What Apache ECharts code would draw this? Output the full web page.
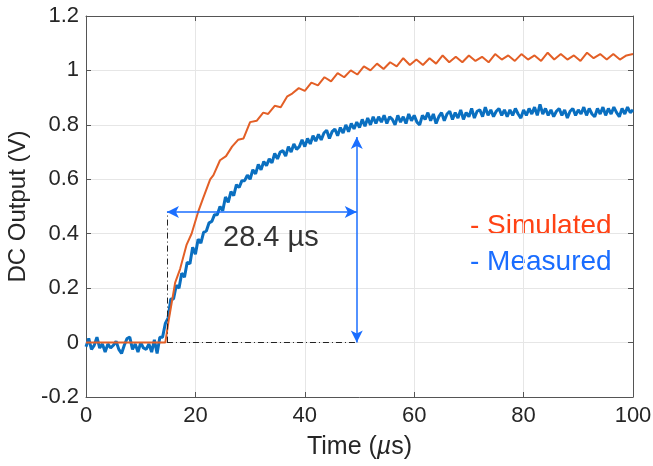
<!DOCTYPE html>
<html><head><meta charset="utf-8">
<script src="https://cdn.jsdelivr.net/npm/echarts@6/dist/echarts.min.js"></script>
<style>html,body{margin:0;padding:0;background:#fff}#c{width:653px;height:466px}</style>
</head><body><div id="c"></div>
<script>
// ---- data ----
const xRange = [0, 100];
const xInterval = 20;
const yRange = [-0.2, 1.2];
const yInterval = 0.2;

const simTime = [0, 14.5, 15.1, 16.3, 17.2, 18.4, 19.3, 20.5, 21.4, 22.7, 23.3, 24.5, 25.6, 26.7, 27.8, 28.8,
  30.0, 31.2, 32.4, 33.3, 34.5, 35.6, 36.8, 37.7, 38.9, 40.0, 41.2, 42.4, 43.6, 44.8, 46.0, 47.2, 48.4, 49.6,
  50.8, 52.0, 53.2, 54.4, 55.6, 56.8, 58.0, 59.2, 60.4, 61.6, 62.8, 64.0, 65.2, 66.4, 67.6, 68.8, 70.0, 71.2,
  72.4, 73.6, 74.8, 76.0, 77.2, 78.4, 79.6, 80.8, 82.0, 83.2, 84.4, 85.6, 86.8, 88.0, 89.2, 90.4, 91.6, 92.8,
  94.0, 95.2, 96.4, 97.6, 98.8, 100];
const simValue = [0, 0, 0.08, 0.22, 0.27, 0.36, 0.40, 0.48, 0.53, 0.60, 0.615, 0.67, 0.685, 0.72, 0.745, 0.75,
  0.81, 0.815, 0.845, 0.84, 0.87, 0.865, 0.905, 0.915, 0.935, 0.925, 0.955, 0.945, 0.975, 0.96, 0.99, 0.975, 1.0, 0.985,
  1.015, 1.0, 1.025, 1.005, 1.03, 1.015, 1.045, 1.02, 1.04, 1.02, 1.045, 1.025, 1.055, 1.03, 1.05, 1.03, 1.055, 1.035,
  1.05, 1.03, 1.06, 1.04, 1.055, 1.035, 1.06, 1.04, 1.055, 1.035, 1.065, 1.04, 1.06, 1.04, 1.055, 1.035, 1.065, 1.045,
  1.06, 1.04, 1.06, 1.04, 1.055, 1.06];

const measStep = 0.5; // sample spacing in µs, first sample at t = 0
const measValue = [
  -0.015, 0.015, -0.025, -0.01, 0.02, -0.02, -0.005, -0.035, -0.005, -0.02,
  -0.01, 0.005, -0.025, -0.04, -0.01, 0.015, 0.02, -0.025, -0.005, -0.035,
  0.0, -0.02, -0.025, -0.005, -0.035, 0.01, -0.04, 0.02,
  0.02, 0.07, 0.09, 0.16, 0.16, 0.21, 0.20, 0.255, 0.24, 0.295,
  0.29, 0.35, 0.325, 0.38, 0.365, 0.405, 0.41, 0.44, 0.445, 0.47,
  0.47, 0.50, 0.485, 0.535, 0.515, 0.555, 0.54, 0.58, 0.57, 0.595,
  0.595, 0.615, 0.60, 0.635, 0.62, 0.655, 0.635, 0.665, 0.65, 0.675,
  0.66, 0.695, 0.675, 0.70, 0.705, 0.685, 0.72, 0.70, 0.73, 0.71,
  0.72, 0.745, 0.72, 0.75, 0.73, 0.76, 0.74, 0.765, 0.745, 0.77,
  0.78, 0.75, 0.775, 0.785, 0.76, 0.79, 0.77, 0.80, 0.775, 0.805,
  0.785, 0.81, 0.79, 0.82, 0.795, 0.825, 0.80, 0.83, 0.805, 0.83,
  0.81, 0.835, 0.805, 0.83, 0.82, 0.80, 0.835, 0.81, 0.83, 0.805,
  0.84, 0.815, 0.835, 0.81, 0.80, 0.835, 0.82, 0.845, 0.815, 0.84,
  0.805, 0.83, 0.845, 0.815, 0.84, 0.85, 0.82, 0.845, 0.825, 0.855,
  0.82, 0.845, 0.83, 0.86, 0.825, 0.85, 0.855, 0.83, 0.865, 0.835,
  0.855, 0.83, 0.85, 0.86, 0.835, 0.855, 0.83, 0.855, 0.835, 0.86,
  0.84, 0.825, 0.855, 0.835, 0.86, 0.84, 0.865, 0.835, 0.875, 0.84,
  0.86, 0.835, 0.855, 0.83, 0.85, 0.86, 0.835, 0.855, 0.825, 0.85,
  0.86, 0.835, 0.855, 0.84, 0.865, 0.835, 0.86, 0.84, 0.83, 0.86,
  0.84, 0.865, 0.835, 0.86, 0.84, 0.865, 0.845, 0.83, 0.86, 0.84,
  0.865, 0.845, 0.855];

const riseStart = 14.8;   // µs
const riseEnd = 49.5;     // µs
const arrowLevel = 0.48;  // V
const measTop = 0.755;    // V
const riseLabel = '28.4 µs';
const riseLabelPos = [33.8, 0.384];
const seriesNames = ['- Simulated', '- Measured'];

// ---- chart ----
const FONT = '"Liberation Sans", Arial, sans-serif';
const simData = simTime.map((t, i) => [t, simValue[i]]);
const measData = measValue.map((v, i) => [i * measStep, v]);

const axisCol = '#555';
const chart = echarts.init(document.getElementById('c'));
const dashDot = { type: [6, 3, 1, 3], color: '#222', width: 1 };
const arrowStyle = { type: 'solid', color: '#1a6eff', width: 1.5 };

chart.setOption({
  animation: false,
  backgroundColor: '#fff',
  grid: { left: 86, right: 20, top: 16, bottom: 69, containLabel: false, outerBoundsMode: 'none' },
  xAxis: [{
    type: 'value', min: xRange[0], max: xRange[1], interval: xInterval,
    name: 'Time ({i|µ}s)', nameLocation: 'middle', nameGap: 38,
    nameTextStyle: { fontFamily: FONT, fontSize: 25, color: '#262626',
      rich: { i: { fontFamily: FONT, fontSize: 25, fontStyle: 'italic', color: '#262626' } } },
    axisLine: { show: true, onZero: false, lineStyle: { color: axisCol } },
    axisTick: { show: true, inside: true, length: 5, lineStyle: { color: axisCol } },
    axisLabel: { fontFamily: FONT, fontSize: 22, color: '#262626', margin: 8 },
    splitLine: { show: true, lineStyle: { color: '#e6e6e6', width: 1 } }
  }, {
    type: 'value', position: 'top', min: xRange[0], max: xRange[1], interval: xInterval,
    axisLine: { show: true, onZero: false, lineStyle: { color: axisCol } },
    axisTick: { show: true, inside: true, length: 5, lineStyle: { color: axisCol } },
    axisLabel: { show: false }, splitLine: { show: false }
  }],
  yAxis: [{
    type: 'value', min: yRange[0], max: yRange[1], interval: yInterval,
    name: 'DC Output (V)', nameLocation: 'middle', nameGap: 52, nameRotate: 90,
    nameTextStyle: { fontFamily: FONT, fontSize: 24, color: '#262626' },
    axisLine: { show: true, onZero: false, lineStyle: { color: axisCol } },
    axisTick: { show: true, inside: true, length: 5, lineStyle: { color: axisCol } },
    axisLabel: { fontFamily: FONT, fontSize: 22, color: '#262626', margin: 7 },
    splitLine: { show: true, lineStyle: { color: '#e6e6e6', width: 1 } }
  }, {
    type: 'value', position: 'right', min: yRange[0], max: yRange[1], interval: yInterval,
    axisLine: { show: true, onZero: false, lineStyle: { color: axisCol } },
    axisTick: { show: true, inside: true, length: 5, lineStyle: { color: axisCol } },
    axisLabel: { show: false }, splitLine: { show: false }
  }],
  series: [
    {
      name: 'annotations', type: 'line', data: [], silent: true,
      markLine: {
        silent: true, animation: false, label: { show: false },
        symbol: 'none',
        data: [
          [{ coord: [riseStart, 0], lineStyle: dashDot, symbol: 'none' }, { coord: [riseStart, arrowLevel], symbol: 'none' }],
          [{ coord: [riseStart, 0], lineStyle: dashDot, symbol: 'none' }, { coord: [riseEnd, 0], symbol: 'none' }],
          [{ coord: [riseStart, arrowLevel], lineStyle: arrowStyle, symbol: 'arrow', symbolSize: [9, 12] },
           { coord: [riseEnd, arrowLevel], symbol: 'arrow', symbolSize: [9, 12] }],
          [{ coord: [riseEnd, measTop], lineStyle: arrowStyle, symbol: 'arrow', symbolSize: [9, 12] },
           { coord: [riseEnd, 0], symbol: 'arrow', symbolSize: [9, 12] }]
        ]
      }
    },
    {
      name: 'Measured', type: 'line', data: measData, showSymbol: false, symbol: 'none',
      lineStyle: { color: '#0a6fc0', width: 3 }, z: 3
    },
    {
      name: 'Simulated', type: 'line', data: simData, showSymbol: false, symbol: 'none',
      lineStyle: { color: '#e35f26', width: 2 }, z: 4
    },
    {
      name: 'label', type: 'scatter', data: [riseLabelPos], symbol: 'circle', symbolSize: 1,
      itemStyle: { color: 'rgba(0,0,0,0)' }, silent: true, z: 5,
      label: { show: true, position: 'inside', formatter: riseLabel, fontFamily: FONT, fontSize: 29, color: '#000' }
    }
  ],
  graphic: [
    { type: 'text', x: 470, y: 226, style: { text: seriesNames[0], fill: '#ff4214', font: '28px ' + FONT, align: 'left', verticalAlign: 'middle' } },
    { type: 'text', x: 470, y: 262, style: { text: seriesNames[1], fill: '#1a6dff', font: '28px ' + FONT, align: 'left', verticalAlign: 'middle' } }
  ]
});
</script></body></html>
